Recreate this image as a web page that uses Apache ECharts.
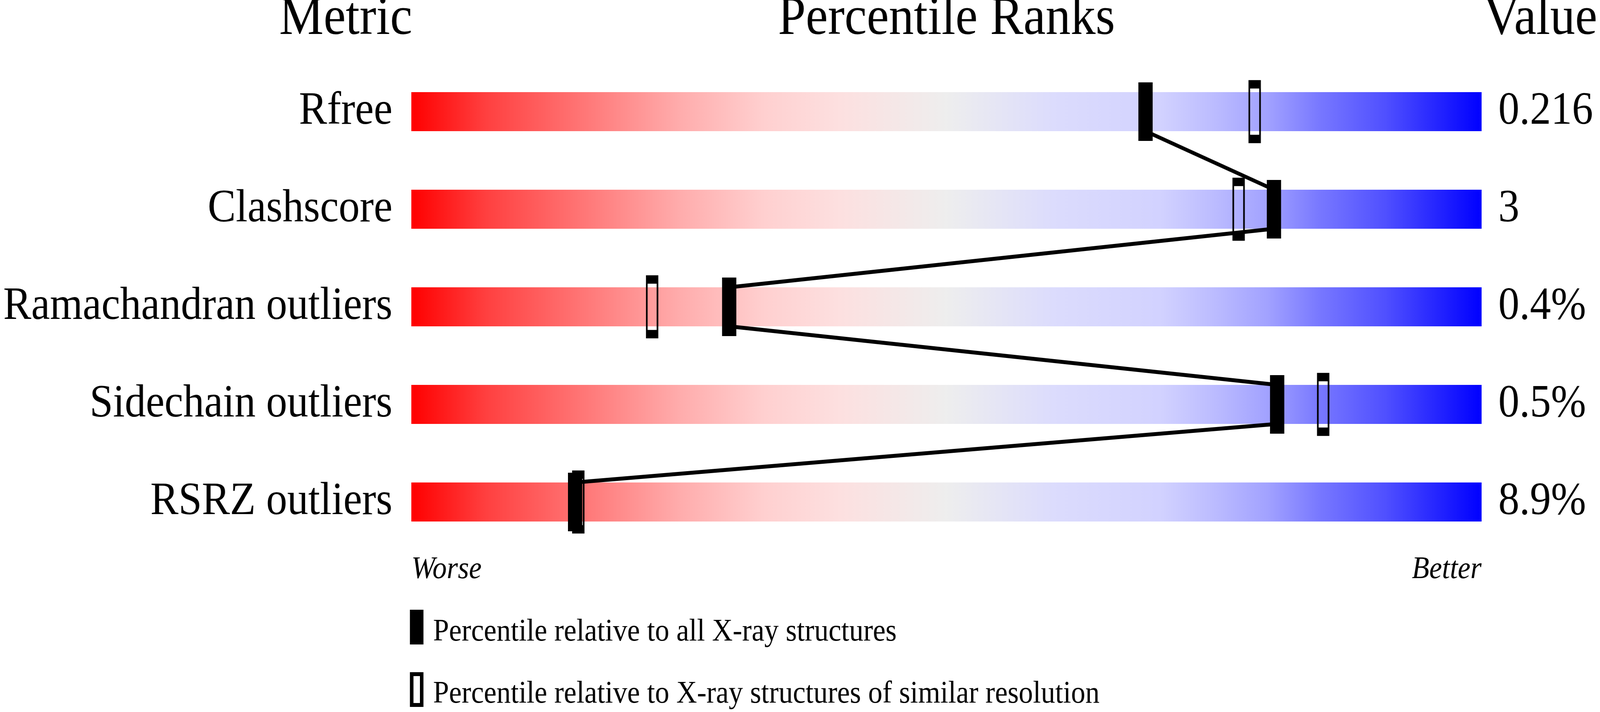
<!DOCTYPE html>
<html>
<head>
<meta charset="utf-8">
<script src="https://cdn.jsdelivr.net/npm/echarts@6/dist/echarts.min.js"></script>
<style>
html,body{margin:0;padding:0;background:#ffffff;overflow:hidden;}
#chart{width:4485px;height:1824px;transform-origin:0 0;}
</style>
</head>
<body>
<div id="chart"></div>
<script>
// ---- data ----
const metrics = ['Rfree', 'Clashscore', 'Ramachandran outliers', 'Sidechain outliers', 'RSRZ outliers'];
const valueLabels = ['0.216', '3', '0.4%', '0.5%', '8.9%'];
const pctAll = [68.6, 80.6, 29.7, 80.9, 15.3];       // percentile relative to all X-ray structures
const pctSimilar = [78.8, 77.3, 22.5, 85.2, 15.6];   // percentile relative to similar resolution
const trackMax = 100;
const headers = ['Metric', 'Percentile Ranks', 'Value'];
const scaleEnds = ['Worse', 'Better'];
const legendLabels = [
  'Percentile relative to all X-ray structures',
  'Percentile relative to X-ray structures of similar resolution'
];

// ---- layout / style ----
const PAGE_W = 4485, PAGE_H = 1824;
const FONT = "'Liberation Serif', 'Times New Roman', serif";
const GRID = { left: 1153, top: 161, width: 3000, height: 1250 };
const HALF_BAR = 0.2; // bar half-height in row units (100px of 250px)

// fit the full design into the actual viewport if it is narrower/shorter
const el = document.getElementById('chart');
const sx = Math.min(1, window.innerWidth / PAGE_W);
const sy = Math.min(1, window.innerHeight / PAGE_H);
if (sx < 1 || sy < 1) { el.style.transform = 'scale(' + sx + ',' + sy + ')'; }

const trackGradient = new echarts.graphic.LinearGradient(0, 0, 1, 0, [
  { offset: 0.00, color: '#ff0000' },
  { offset: 0.07, color: '#ff4040' },
  { offset: 0.15, color: '#ff7070' },
  { offset: 0.25, color: '#ffacac' },
  { offset: 0.33, color: '#ffd0d0' },
  { offset: 0.40, color: '#fde0e0' },
  { offset: 0.50, color: '#eeeeee' },
  { offset: 0.60, color: '#dcdcfd' },
  { offset: 0.70, color: '#d2d2ff' },
  { offset: 0.75, color: '#bcbcff' },
  { offset: 0.80, color: '#a2a2ff' },
  { offset: 0.85, color: '#7777ff' },
  { offset: 0.91, color: '#5050ff' },
  { offset: 1.00, color: '#0000ff' }
]);

const linePoints = [];
pctAll.forEach((p, i) => {
  linePoints.push([p, i + 0.5 - HALF_BAR]);
  linePoints.push([p, i + 0.5 + HALF_BAR]);
});

const chart = echarts.init(el, null, { renderer: 'canvas', width: PAGE_W, height: PAGE_H });

const option = {
  animation: false,
  backgroundColor: '#ffffff',
  grid: { left: GRID.left, top: GRID.top, width: GRID.width, height: GRID.height, containLabel: false },
  xAxis: {
    type: 'value', min: 0, max: trackMax, show: false
  },
  yAxis: [
    {
      type: 'category', data: metrics, inverse: true, position: 'left',
      axisLine: { show: false }, axisTick: { show: false }, splitLine: { show: false },
      axisLabel: { margin: 53, fontFamily: FONT, fontSize: 118, color: '#000', padding: [20, 0, 0, 0] }
    },
    {
      type: 'category', data: valueLabels, inverse: true, position: 'right',
      axisLine: { show: false }, axisTick: { show: false }, splitLine: { show: false },
      axisLabel: { margin: 47, align: 'left', fontFamily: FONT, fontSize: 118, color: '#000', padding: [20, 0, 0, 0] }
    },
    {
      type: 'value', min: 0, max: metrics.length, inverse: true, show: false
    }
  ],
  series: [
    {
      type: 'bar', yAxisIndex: 0, barWidth: 100, z: 1,
      data: metrics.map(() => trackMax),
      itemStyle: { color: trackGradient },
      silent: true
    },
    {
      type: 'line', yAxisIndex: 2, z: 2, symbol: 'none',
      data: linePoints,
      lineStyle: { color: '#000', width: 10, join: 'bevel', opacity: 1 },
      silent: true
    },
    {
      name: legendLabels[1], type: 'scatter', yAxisIndex: 0, z: 3,
      symbol: 'rect', symbolSize: [30, 140],
      data: pctSimilar.map((p, i) => [p, i]),
      itemStyle: { color: 'rgba(0,0,0,0)', borderColor: '#000', borderWidth: 10, opacity: 1 },
      silent: true
    },
    {
      name: legendLabels[0], type: 'scatter', yAxisIndex: 0, z: 4,
      symbol: 'rect', symbolSize: [40, 150],
      data: pctAll.map((p, i) => [p, i]),
      itemStyle: { color: '#000', opacity: 1 },
      silent: true
    }
  ],
  graphic: [
    { type: 'text', style: { text: headers[0], x: 969, y: 50, fontFamily: FONT, fontSize: 140, fill: '#000', align: 'center', verticalAlign: 'middle' } },
    { type: 'text', style: { text: headers[1], x: 2653, y: 50, fontFamily: FONT, fontSize: 140, fill: '#000', align: 'center', verticalAlign: 'middle' } },
    { type: 'text', style: { text: headers[2], x: 4318, y: 50, fontFamily: FONT, fontSize: 140, fill: '#000', align: 'center', verticalAlign: 'middle' } },
    { type: 'text', style: { text: scaleEnds[0], x: 1153, y: 1460, fontFamily: FONT, fontStyle: 'italic', fontSize: 80, fill: '#000', align: 'left', verticalAlign: 'middle' } },
    { type: 'text', style: { text: scaleEnds[1], x: 4153, y: 1460, fontFamily: FONT, fontStyle: 'italic', fontSize: 80, fill: '#000', align: 'right', verticalAlign: 'middle' } },
    { type: 'rect', shape: { x: 1149, y: 1562, width: 38, height: 89 }, style: { fill: '#000' } },
    { type: 'text', style: { text: legendLabels[0], x: 1214, y: 1620, fontFamily: FONT, fontSize: 80, fill: '#000', align: 'left', verticalAlign: 'middle' } },
    { type: 'rect', shape: { x: 1154, y: 1727, width: 28, height: 79 }, style: { fill: '#fff', stroke: '#000', lineWidth: 10 } },
    { type: 'text', style: { text: legendLabels[1], x: 1214, y: 1779, fontFamily: FONT, fontSize: 80, fill: '#000', align: 'left', verticalAlign: 'middle' } }
  ]
};

chart.setOption(option);
</script>
</body>
</html>
